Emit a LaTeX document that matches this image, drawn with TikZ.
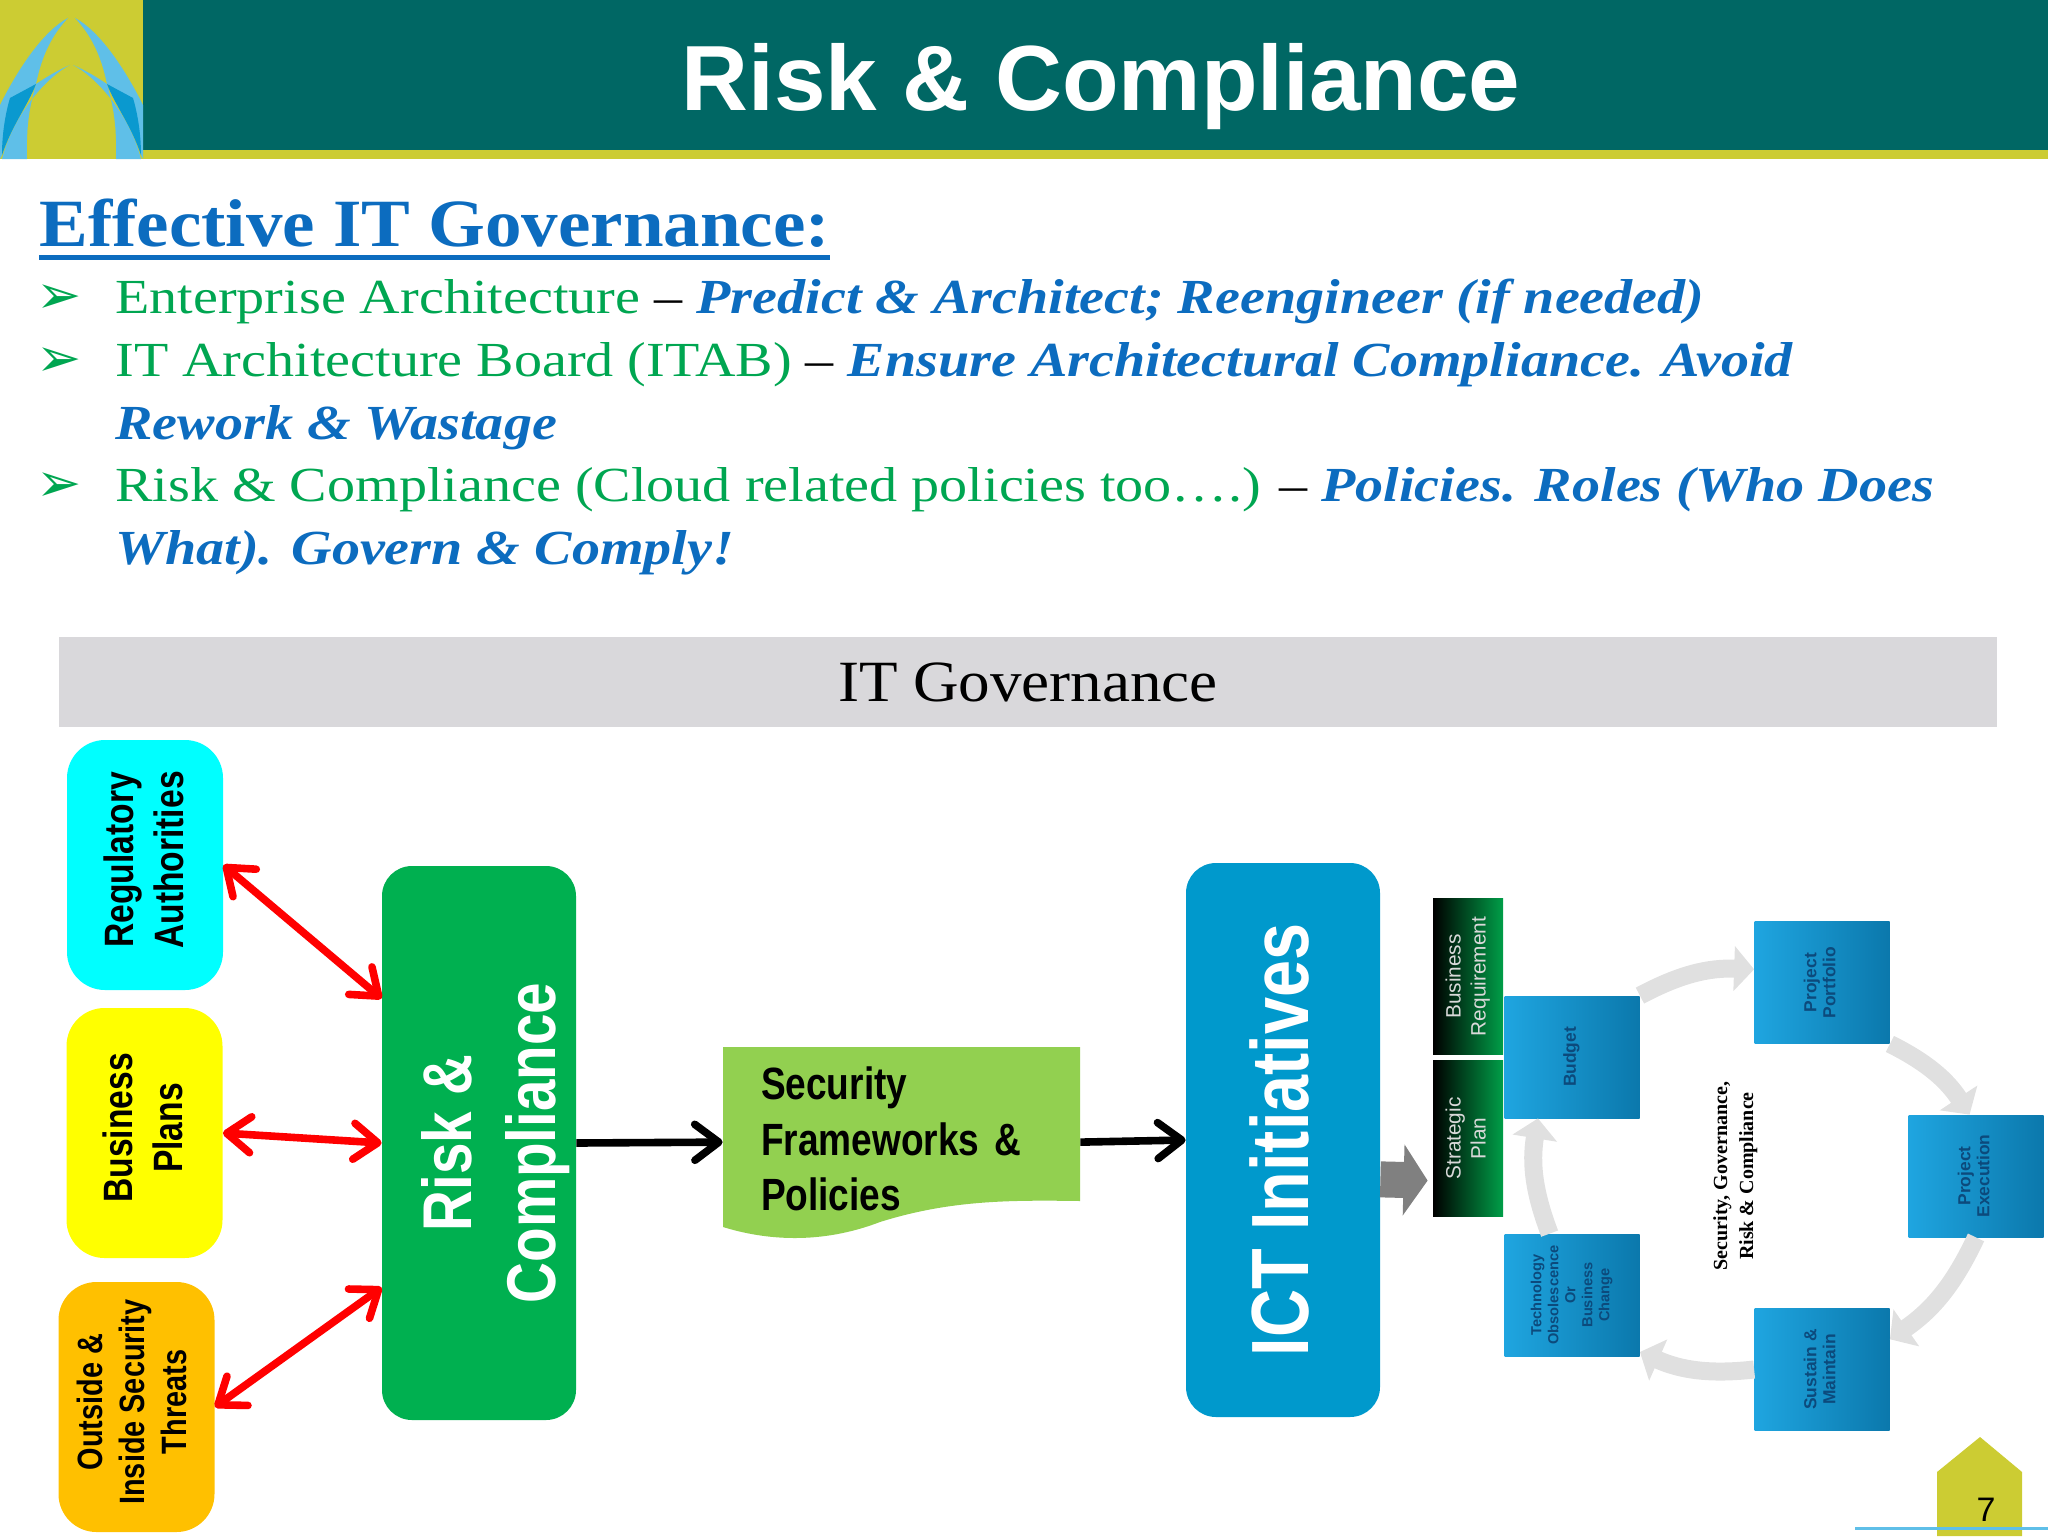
\documentclass[tikz,border=0pt]{standalone}
\usepackage{graphicx}
\usepackage{fontspec}
\usepackage{tikz}
\usetikzlibrary{arrows.meta}
\setmainfont{Liberation Sans}
\newfontfamily\narrowfont[FakeStretch=0.82]{Liberation Sans}
\newfontfamily\bookfont[FakeStretch=1.08]{Liberation Serif}
\newfontfamily\rowfont[FakeStretch=1.145]{Liberation Serif}
\newfontfamily\plainserif{Liberation Serif}
\newfontfamily\symbfont{DejaVu Sans}
\newcommand{\vlabel}[1]{\rotatebox{90}{\begin{tabular}{@{}c@{}}#1\end{tabular}}}
\newcommand{\fsize}[2]{\fontsize{#1}{#2}\selectfont}
\definecolor{headteal}{HTML}{006764}
\definecolor{headlime}{HTML}{CCCC33}
\definecolor{logolight}{HTML}{5FBFE8}
\definecolor{logodark}{HTML}{0A99CF}
\definecolor{rowgreen}{HTML}{00A651}
\definecolor{rowblue}{HTML}{0C6CBF}
\definecolor{bandgray}{HTML}{D9D8DB}
\definecolor{regcyan}{HTML}{00FFFF}
\definecolor{planyellow}{HTML}{FFFF00}
\definecolor{linkred}{HTML}{FF0000}
\definecolor{riskgreen}{HTML}{00B050}
\definecolor{ictblue}{HTML}{0099CC}
\definecolor{docgreen}{HTML}{92D050}
\definecolor{threatorange}{HTML}{FFC000}
\definecolor{cyclegray}{HTML}{E0E0E0}
\definecolor{stageleft}{HTML}{1FA5E0}
\definecolor{stageright}{HTML}{0B78AC}
\definecolor{stagetext}{HTML}{0C4A7C}
\definecolor{feedgray}{HTML}{808080}
\tikzset{
    rowtext/.style={anchor=base west, inner sep=0pt, font=\rowfont\fsize{24.5}{29}},
    rowmark/.style={anchor=base west, inner sep=0pt, text=rowgreen, font=\symbfont\fsize{27}{30}},
    sidebox/.style={rounded corners=19pt, minimum width=78pt, minimum height=125pt, inner sep=0pt, text=black, text depth=5pt, font=\narrowfont\bfseries\fsize{20.5}{25}},
    mainbox/.style={rounded corners=15pt, minimum width=97pt, minimum height=277pt, inner sep=0pt, text=white, font=\narrowfont\bfseries},
    stagebox/.style={left color=stageleft, right color=stageright, minimum width=67.5pt, minimum height=61pt, inner sep=0pt, text=stagetext, font=\bfseries\fsize{8.7}{9.5}},
    planbox/.style={left color=black, right color=riskgreen!90!black, minimum width=35pt, minimum height=78pt, inner sep=0pt, text=white!85!black, font=\fsize{10.4}{12.5}},
    link/.style={line width=3.8pt, -{Straight Barb[length=12pt,width=18pt,line width=3.8pt,round]}},
    redlink/.style={link, linkred, {Straight Barb[length=12pt,width=18pt,line width=3.8pt,round]}-{Straight Barb[length=12pt,width=18pt,line width=3.8pt,round]}},
    cyclelink/.style={cyclegray, line width=9pt, -{Triangle[length=10pt,width=22pt]}}
}

\begin{document}
\begin{tikzpicture}[x=0.5pt,y=-0.5pt]
    \useasboundingbox (0,0) rectangle (2048,1536);

    \fill[headlime] (0,0) rectangle (2048,159);
    \fill[headteal] (143,0) rectangle (2048,150);
    \foreach \flip/\base in {1/0,-1/143} {
        \begin{scope}[shift={(\base,0)},xscale=\flip]
            \fill[logolight] (68,18) .. controls (45,30) and (20,65) .. (0,105) -- (0,159) -- (2,155) .. controls (12,125) and (28,105) .. (36,84) .. controls (42,55) and (52,35) .. (68,18) -- cycle;
            \fill[logolight] (70,65) .. controls (50,75) and (15,110) .. (2,159) -- (27,159) .. controls (26,125) and (30,105) .. (36,84) .. controls (45,78) and (58,70) .. (70,65) -- cycle;
            \fill[logodark] (10,98) -- (36,84) .. controls (28,105) and (12,125) .. (2,155) .. controls (2,135) and (5,115) .. (10,98) -- cycle;
        \end{scope}
    }
    \node[text=white, font=\bfseries\fsize{46.3}{50}] (title) at (1101,87) {Risk \& Compliance};

    \node[anchor=base west, inner sep=0pt, text=rowblue, font=\bookfont\bfseries\fsize{33.8}{38}] (heading) at (39,246) {Effective IT Governance:};
    \draw[rowblue, line width=2.2pt] ([yshift=-5pt]heading.south west) -- ([yshift=-5pt]heading.south east);

    \node[rowmark] (mark1) at (36,313) {➢};
    \node[rowtext] (row1) at (115,313) {\textcolor{rowgreen}{Enterprise Architecture} – \textcolor{rowblue}{\bfseries\itshape Predict \& Architect; Reengineer (if needed)}};
    \node[rowmark] (mark2) at (36,376) {➢};
    \node[rowtext] (row2) at (115,376) {\textcolor{rowgreen}{IT Architecture Board (ITAB)} – \textcolor{rowblue}{\bfseries\itshape Ensure Architectural Compliance. Avoid}};
    \node[rowtext, text=rowblue, font=\rowfont\bfseries\itshape\fsize{24.5}{29}] (row2b) at (115,439) {Rework \& Wastage};
    \node[rowmark] (mark3) at (36,501) {➢};
    \node[rowtext] (row3) at (115,501) {\textcolor{rowgreen}{Risk \& Compliance (Cloud related policies too….)} – \textcolor{rowblue}{\bfseries\itshape Policies. Roles (Who Does}};
    \node[rowtext, text=rowblue, font=\rowfont\bfseries\itshape\fsize{24.5}{29}] (row3b) at (115,564) {What). Govern \& Comply!};

    \node[fill=bandgray, minimum width=969pt, minimum height=45pt, inner sep=0pt, font=\bookfont\fsize{29.2}{34}] (band) at (1028,682) {IT Governance};

    \node[sidebox, fill=regcyan] (regulators) at (145,865) {\hspace*{3pt}\vlabel{Regulatory\\Authorities}};
    \node[sidebox, fill=planyellow] (plans) at (144.5,1133) {\hspace*{3pt}\vlabel{Business\\Plans}};
    \node[sidebox, fill=threatorange, font=\narrowfont\bfseries\fsize{17.6}{21}] (threats) at (136.5,1407) {\vlabel{Outside \&\\Inside Security\\Threats}};

    \node[mainbox, fill=riskgreen, font=\narrowfont\bfseries\fsize{34.5}{42}] (risk) at (479,1143) {\makebox[97pt]{\hspace*{18pt}\vlabel{Risk \&\\Compliance}}};
    \node[mainbox, fill=ictblue, font=\narrowfont\bfseries\fsize{40.6}{46}] (ict) at (1283,1140) {\makebox[97pt]{\hspace*{7pt}\vlabel{ICT Initiatives}}};

    \fill[docgreen] (723,1047) -- (1080,1047) -- (1080,1201) .. controls (1010,1200) and (950,1200) .. (880,1222) .. controls (820,1245) and (765,1240) .. (723,1227) -- cycle;
    \node[minimum height=95pt, inner ysep=0pt, inner xsep=19pt, text width=140.5pt, align=left, font=\narrowfont\bfseries\fsize{22.6}{27.8}] (doc) at (901.5,1139) {Security\\Frameworks \&\\Policies};

    \node[planbox] (need) at (1468,976.5) {\vlabel{Business\\Requirement}};
    \node[planbox] (strategy) at (1468,1138.5) {\vlabel{Strategic\\Plan}};
    \node[stagebox] (budget) at (1572,1057) {\vlabel{Budget}};
    \node[stagebox] (portfolio) at (1822,982.5) {\vlabel{Project\\Portfolio}};
    \node[stagebox] (execution) at (1976,1176) {\vlabel{Project\\Execution}};
    \node[stagebox] (sustain) at (1822,1369.5) {\vlabel{Sustain \&\\Maintain}};
    \node[stagebox, font=\bfseries\fsize{7.3}{8.5}] (change) at (1572,1295) {\vlabel{Technology\\Obsolescence\\Or\\Business\\Change}};
    \node[inner sep=0pt, text=black, font=\plainserif\bfseries\fsize{10}{13}] (centre) at (1735,1176) {\vlabel{Security, Governance,\\Risk \& Compliance}};

    \path[redlink] (regulators.east) edge (risk.124);
    \path[redlink] (plans.east) edge (risk.west);
    \path[redlink] (threats.east) edge (risk.-124);
    \path[link] (risk.east) edge (doc.181);
    \path[link] (doc.-1) edge (ict.west);
    \draw[feedgray, line width=18pt, -{Triangle[length=12pt,width=35pt]}, shorten >=2.5pt] (ict.-22) -- (strategy.-130);

    \draw[cyclelink] (budget.north east) to[bend left=15] (portfolio.169);
    \draw[cyclelink] (portfolio.south east) to[bend left=15] (execution.96);
    \draw[cyclelink] (execution.south) to[bend left=15] (sustain.24);
    \draw[cyclelink] (sustain.west) to[bend left=15] (change.-40);
    \draw[cyclelink] (change.110) to[bend left=15] (budget.-119);

    \fill[headlime] (1937,1536) -- (1937,1472) -- (1980,1437) -- (2022,1472) -- (2022,1536) -- cycle;
    \node[inner sep=0pt, font=\fsize{17}{20}] (page) at (1986,1510) {7};
    \draw[logolight, line width=1.5pt] (1855,1528) -- (2048,1528);
\end{tikzpicture}
\end{document}
